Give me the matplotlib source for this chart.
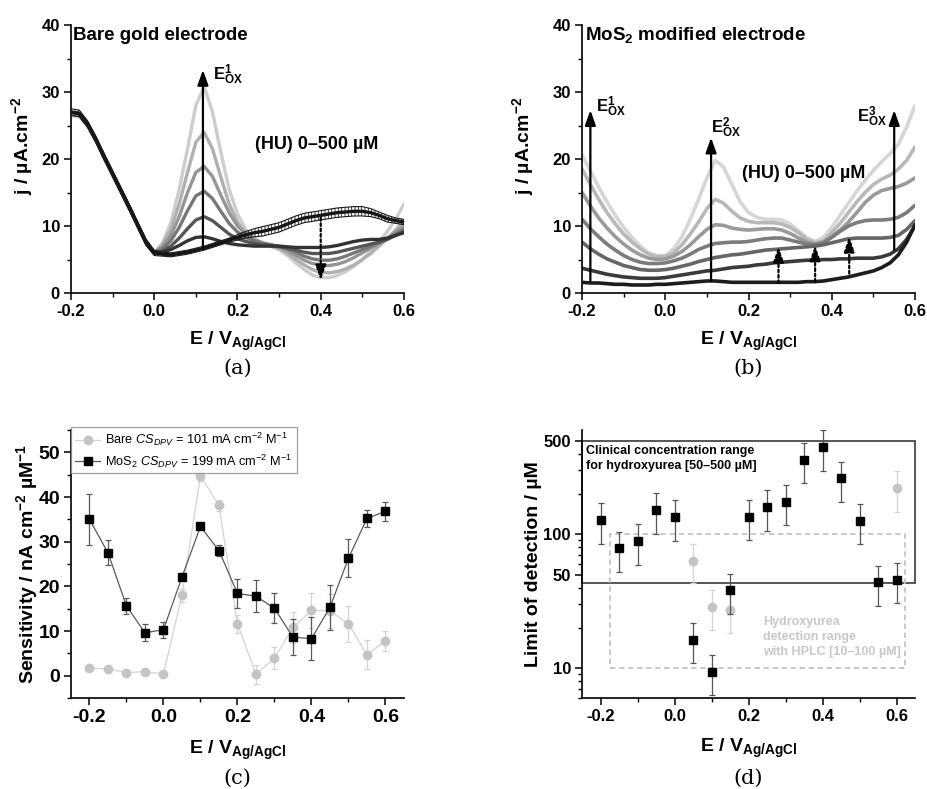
import numpy as np
import matplotlib
matplotlib.use('Agg')
import matplotlib.pyplot as plt
from matplotlib.ticker import MultipleLocator, FixedLocator, FixedFormatter, NullFormatter
from matplotlib.patches import Rectangle
from matplotlib.lines import Line2D

plt.rcParams['font.family'] = ['Liberation Sans', 'DejaVu Sans']
plt.rcParams['font.weight'] = 'bold'
plt.rcParams['axes.labelweight'] = 'bold'
plt.rcParams['mathtext.fontset'] = 'custom'
plt.rcParams['mathtext.rm'] = 'Liberation Sans:weight=normal'
plt.rcParams['mathtext.it'] = 'Liberation Sans:style=italic:weight=normal'
plt.rcParams['mathtext.bf'] = 'Liberation Sans:weight=bold'
plt.rcParams['hatch.linewidth'] = 0.6

# ---------------- data ----------------
# DPV potential grid (V vs Ag/AgCl)
E_dpv = np.linspace(-0.2, 0.6, 41)

# Panel (a): bare gold electrode, HU 0 -> 500 uM (current density, uA cm-2)
a_0uM = [27.0, 26.8, 25.2, 22.9, 20.3, 17.8, 15.3, 12.8, 10.2, 7.6, 6.0,
         5.8, 5.7, 5.9, 6.1, 6.4, 6.7, 7.1, 7.5, 7.9, 8.3,
         8.7, 9.0, 9.2, 9.5, 9.8, 10.3, 10.8, 11.2, 11.4, 11.6,
         11.8, 12.0, 12.1, 12.2, 12.2, 12.0, 11.6, 11.1, 10.8, 10.6]
a_0uM_err = [0.5, 0.5, 0.5, 0.5, 0.5, 0.5, 0.5, 0.5, 0.5, 0.5, 0.4,
             0.3, 0.3, 0.3, 0.3, 0.3, 0.3, 0.3, 0.3, 0.3, 0.4,
             0.5, 0.6, 0.7, 0.7, 0.7, 0.7, 0.7, 0.7, 0.7, 0.7,
             0.7, 0.7, 0.7, 0.7, 0.7, 0.6, 0.5, 0.5, 0.4, 0.4]
a_c1 = [27.0, 26.8, 25.2, 22.9, 20.3, 17.8, 15.3, 12.8, 10.2, 7.6, 6.0,
        6.1, 6.5, 7.1, 7.8, 8.3, 8.4, 8.1, 7.7, 7.4, 7.2,
        7.1, 7.0, 7.0, 7.0, 7.0, 6.9, 6.8, 6.8, 6.8, 6.8,
        6.9, 7.1, 7.4, 7.7, 7.9, 8.0, 8.0, 8.2, 8.6, 9.0]
a_c2 = [27.0, 26.8, 25.2, 22.9, 20.3, 17.8, 15.3, 12.8, 10.2, 7.6, 6.0,
        6.3, 7.0, 8.2, 9.6, 10.9, 11.4, 10.8, 9.8, 8.8, 8.1,
        7.7, 7.4, 7.2, 7.1, 6.9, 6.7, 6.4, 6.1, 5.9, 5.9,
        5.9, 6.1, 6.4, 6.7, 7.0, 7.3, 7.6, 8.0, 8.6, 9.2]
a_c3 = [26.9, 26.7, 25.1, 22.8, 20.2, 17.8, 15.3, 12.8, 10.2, 7.6, 6.0,
        6.6, 7.8, 9.8, 12.3, 14.5, 15.2, 14.1, 12.2, 10.4, 9.1,
        8.3, 7.8, 7.4, 7.2, 7.0, 6.6, 6.1, 5.5, 5.1, 4.9,
        4.9, 5.1, 5.5, 6.0, 6.5, 7.0, 7.5, 8.1, 8.8, 9.5]
a_c4 = [26.8, 26.6, 25.1, 22.8, 20.2, 17.7, 15.2, 12.7, 10.1, 7.6, 6.0,
        6.9, 8.6, 11.4, 15.0, 18.0, 18.9, 17.4, 14.6, 12.0, 10.0,
        8.8, 8.0, 7.5, 7.2, 6.9, 6.3, 5.6, 4.9, 4.4, 4.2,
        4.1, 4.3, 4.7, 5.3, 6.0, 6.7, 7.4, 8.2, 9.1, 10.0]
a_c5 = [26.6, 26.5, 25.0, 22.8, 20.2, 17.7, 15.2, 12.7, 10.1, 7.6, 6.0,
        7.2, 9.5, 13.3, 18.0, 22.5, 24.0, 21.5, 17.3, 13.3, 10.6,
        8.9, 7.9, 7.4, 7.0, 6.6, 5.9, 5.0, 4.2, 3.5, 3.1,
        3.0, 3.2, 3.6, 4.2, 5.0, 5.9, 7.0, 8.1, 9.4, 10.8]
a_c6 = [26.4, 26.4, 24.9, 22.7, 20.1, 17.6, 15.1, 12.6, 10.1, 7.6, 6.0,
        7.5, 10.5, 15.5, 21.5, 28.0, 30.8, 27.0, 21.0, 15.5, 11.8,
        9.5, 8.2, 7.5, 7.0, 6.5, 5.6, 4.5, 3.5, 2.7, 2.3,
        2.3, 2.6, 3.2, 4.0, 5.0, 6.2, 7.6, 9.2, 11.0, 13.3]

# Panel (b): MoS2 modified electrode, HU 0 -> 500 uM
b_0uM = [1.6, 1.5, 1.5, 1.4, 1.3, 1.3, 1.2, 1.2, 1.2, 1.3, 1.3,
         1.4, 1.5, 1.6, 1.7, 1.8, 1.8, 1.7, 1.6, 1.6, 1.6,
         1.6, 1.6, 1.6, 1.6, 1.6, 1.6, 1.7, 1.7, 1.8, 2.0,
         2.2, 2.4, 2.7, 3.0, 3.3, 3.8, 4.5, 5.7, 7.6, 10.2]
b_c2 = [3.7, 3.4, 3.1, 2.8, 2.6, 2.4, 2.3, 2.2, 2.2, 2.2, 2.3,
        2.5, 2.7, 2.9, 3.1, 3.3, 3.4, 3.6, 3.8, 3.9, 4.0,
        4.2, 4.3, 4.5, 4.6, 4.7, 4.8, 4.9, 4.9, 5.0, 5.0,
        5.1, 5.1, 5.2, 5.2, 5.2, 5.4, 5.8, 6.6, 8.0, 10.0]
b_c3 = [7.6, 6.6, 5.8, 5.1, 4.6, 4.1, 3.8, 3.5, 3.4, 3.4, 3.5,
        3.7, 4.0, 4.3, 4.7, 5.0, 5.3, 5.5, 5.7, 5.8, 6.0,
        6.2, 6.4, 6.5, 6.6, 6.7, 6.8, 6.9, 7.0, 7.2, 7.5,
        7.8, 8.1, 8.2, 8.2, 8.2, 8.2, 8.3, 8.6, 9.5, 10.8]
b_c4 = [11.0, 9.6, 8.4, 7.3, 6.4, 5.6, 5.0, 4.6, 4.4, 4.4, 4.5,
        4.8, 5.2, 5.8, 6.5, 7.0, 7.4, 7.5, 7.6, 7.6, 7.7,
        7.9, 8.1, 8.2, 8.2, 7.9, 7.6, 7.3, 7.2, 7.5, 8.3,
        9.2, 10.0, 10.5, 10.8, 10.9, 10.9, 11.0, 11.3, 12.0, 13.1]
b_c5 = [15.0, 13.0, 11.2, 9.7, 8.4, 7.3, 6.4, 5.7, 5.2, 5.0, 5.1,
        5.5, 6.2, 7.2, 8.4, 9.5, 10.2, 10.1, 9.7, 9.5, 9.4,
        9.5, 9.6, 9.6, 9.4, 8.9, 8.2, 7.6, 7.3, 7.6, 8.4,
        9.4, 10.6, 12.0, 13.5, 14.6, 15.3, 15.6, 15.9, 16.4, 17.2]
b_c6 = [18.5, 16.2, 14.0, 12.0, 10.3, 8.8, 7.6, 6.6, 5.8, 5.4, 5.4,
        6.0, 7.2, 8.8, 10.6, 12.6, 14.0, 13.4, 12.2, 11.2, 10.7,
        10.5, 10.5, 10.5, 10.3, 9.8, 9.0, 8.0, 7.5, 7.8, 9.0,
        10.4, 12.0, 13.6, 15.0, 16.2, 17.0, 17.6, 18.5, 19.8, 21.8]
b_c7 = [20.6, 18.2, 15.8, 13.6, 11.6, 9.8, 8.3, 7.0, 6.0, 5.6, 5.6,
        6.6, 8.4, 11.0, 14.0, 17.2, 19.8, 18.8, 16.2, 13.6, 12.0,
        11.3, 11.0, 11.0, 10.9, 10.3, 9.3, 8.3, 7.7, 8.3, 9.8,
        11.6, 13.4, 15.2, 16.8, 18.3, 19.6, 20.8, 22.2, 24.8, 28.0]

curve_grays_a = ['#151515', '#333333', '#555555', '#777777', '#959595', '#b0b0b0', '#cdcdcd']
curve_grays_b = ['#1c1c1c', '#3a3a3a', '#666666', '#7c7c7c', '#9a9a9a', '#b8b8b8', '#d6d6d6']

# arrows (x, y_start, y_end)
a_arrow_solid = (0.117, 6.6, 33.3)
a_arrow_dotted = (0.40, 11.2, 1.9)
b_arrows_solid = [(-0.18, 1.8, 27.3), (0.11, 1.8, 23.2), (0.55, 6.4, 27.3)]
b_arrows_dotted = [(0.272, 1.5, 6.9), (0.36, 1.7, 7.1), (0.442, 2.9, 8.4)]

# Panel (c): sensitivity (nA cm-2 uM-1)
E_sens = [-0.2, -0.15, -0.1, -0.05, 0.0, 0.05, 0.1, 0.15, 0.2, 0.25, 0.3,
          0.35, 0.4, 0.45, 0.5, 0.55, 0.6]
sens_bare = [1.7, 1.5, 0.7, 0.9, 0.4, 18.0, 44.8, 38.1, 11.6, 0.3, 3.9,
             10.8, 14.6, 14.5, 11.6, 4.7, 7.8]
sens_bare_err = [0.4, 0.4, 0.4, 0.4, 0.4, 1.4, 1.2, 1.3, 2.0, 2.2, 2.5,
                 3.4, 4.0, 3.8, 4.1, 3.2, 2.2]
sens_mos2 = [35.0, 27.5, 15.6, 9.6, 10.3, 22.1, 33.4, 28.0, 18.4, 17.8, 15.1,
             8.6, 8.3, 15.3, 26.3, 35.2, 36.8]
sens_mos2_err = [5.7, 2.8, 1.8, 1.9, 1.8, 0.5, 0.5, 1.2, 3.2, 3.6, 3.4,
                 4.0, 4.8, 5.1, 4.3, 1.9, 2.1]

# Panel (d): limit of detection (uM)
lod_mos2 = [128, 79, 89, 151, 134, 16.4, 9.4, 38.3, 135, 160, 175,
            361, 449, 262, 126, 43.7, 45.7]
lod_mos2_hi = [170, 104, 119, 202, 180, 21.8, 12.5, 50.7, 180, 214, 233,
               483, 603, 349, 167, 58, 61]
lod_mos2_lo = [85, 52, 59, 100, 89, 11.0, 6.3, 25.6, 90, 106, 117,
               241, 299, 175, 84, 29, 30.5]
E_lod_bare = [0.05, 0.1, 0.15, 0.6]
lod_bare = [63, 28.8, 27.2, 221]
lod_bare_hi = [84, 38.3, 36, 296]
lod_bare_lo = [43, 19.3, 18.2, 147]
clinical_range = (43, 500)
hplc_range = (10, 100)
hplc_E = (-0.175, 0.623)

# ---------------- figure ----------------
fig = plt.figure(figsize=(9.28, 7.89), dpi=100)
W, H = 0.3588, 0.3397
axA = fig.add_axes([0.0765, 0.6286, W, H])
axB = fig.add_axes([0.6272, 0.6286, W, H])
axC = fig.add_axes([0.0765, 0.1153, W, H])
axD = fig.add_axes([0.6272, 0.1153, W, H])


def style(ax, lsize=12):
    for s in ['top', 'right']:
        ax.spines[s].set_visible(False)
    for s in ['left', 'bottom']:
        ax.spines[s].set_linewidth(1.2)
    ax.tick_params(which='major', direction='out', length=5, width=1.1,
                   labelsize=lsize, pad=3)
    ax.tick_params(which='minor', direction='out', length=3, width=1.0)


def arrow(ax, x, y0, y1, dotted=False):
    ax.annotate('', xy=(x, y1), xytext=(x, y0),
                arrowprops=dict(arrowstyle='-|>,head_length=0.9,head_width=0.32',
                                color='k', lw=1.6, ls=(0, (1.2, 1.2)) if dotted else '-',
                                shrinkA=0, shrinkB=0))


xlab = r'E / V$_{\mathbf{Ag/AgCl}}$'

# ---- (a) ----
a_curves = [a_0uM, a_c1, a_c2, a_c3, a_c4, a_c5, a_c6]
for y, c in list(zip(a_curves, curve_grays_a))[::-1]:
    axA.plot(E_dpv, y, color=c, lw=2.4, solid_capstyle='round', zorder=2)
lo = np.array(a_0uM) - np.array(a_0uM_err)
hi = np.array(a_0uM) + np.array(a_0uM_err)
axA.fill_between(E_dpv, lo, hi, facecolor='none', edgecolor='#1a1a1a',
                 hatch='|||||', lw=0.8, zorder=3)
arrow(axA, a_arrow_solid[0], a_arrow_solid[1], a_arrow_solid[2])
arrow(axA, a_arrow_dotted[0], a_arrow_dotted[1], a_arrow_dotted[2], dotted=True)
axA.text(0.141, 32.5, r'E$^{\mathbf{1}}_{\mathbf{OX}}$', fontsize=12, va='center')
axA.text(-0.195, 37.8, 'Bare gold electrode', fontsize=13.5, va='baseline')
axA.text(0.391, 22.1, '(HU) 0–500 µM', fontsize=13, ha='center', va='center')
axA.set_xlim(-0.2, 0.6)
axA.set_ylim(0, 40)

# ---- (b) ----
b_curves = [b_0uM, b_c2, b_c3, b_c4, b_c5, b_c6, b_c7]
for y, c in list(zip(b_curves, curve_grays_b))[::-1]:
    axB.plot(E_dpv, y, color=c, lw=2.6, solid_capstyle='round', zorder=2)
for (x, y0, y1) in b_arrows_solid:
    arrow(axB, x, y0, y1)
for (x, y0, y1) in b_arrows_dotted:
    arrow(axB, x, y0, y1, dotted=True)
axB.text(-0.167, 27.8, r'E$^{\mathbf{1}}_{\mathbf{OX}}$', fontsize=12, va='center')
axB.text(0.109, 24.6, r'E$^{\mathbf{2}}_{\mathbf{OX}}$', fontsize=12, va='center')
axB.text(0.461, 26.3, r'E$^{\mathbf{3}}_{\mathbf{OX}}$', fontsize=12, va='center')
axB.text(-0.193, 37.8, r'MoS$_{\mathbf{2}}$ modified electrode', fontsize=13.5, va='baseline')
axB.text(0.333, 17.9, '(HU) 0–500 µM', fontsize=13, ha='center', va='center')
axB.set_xlim(-0.2, 0.6)
axB.set_ylim(0, 40)

for ax, lx in ((axA, -0.108), (axB, -0.138)):
    style(ax, 12)
    ax.xaxis.set_major_locator(MultipleLocator(0.2))
    ax.xaxis.set_minor_locator(MultipleLocator(0.1))
    ax.yaxis.set_major_locator(MultipleLocator(10))
    ax.yaxis.set_minor_locator(MultipleLocator(5))
    ax.xaxis.set_major_formatter(matplotlib.ticker.FormatStrFormatter('%.1f'))
    ax.set_xlabel(xlab, fontsize=14, labelpad=8)
    ax.set_ylabel(r'j / µA.cm$^{\mathbf{-2}}$', fontsize=14)
    ax.yaxis.set_label_coords(lx, 0.55)

# ---- (c) ----
axC.errorbar(E_sens, sens_bare, yerr=sens_bare_err, fmt='o-', color='#d3d3d3',
             mfc='#c4c4c4', mec='#c4c4c4', ms=6, lw=0.9, elinewidth=0.9,
             capsize=2.2, capthick=0.9, zorder=2)
axC.errorbar(E_sens, sens_mos2, yerr=sens_mos2_err, fmt='s-', color='#5a5a5a',
             mfc='k', mec='k', ms=6, lw=0.9, elinewidth=0.9,
             capsize=2.2, capthick=0.9, zorder=3)
handles = [Line2D([], [], color='#d3d3d3', marker='o', mfc='#c4c4c4', mec='#c4c4c4', ms=6, lw=0.9),
           Line2D([], [], color='#5a5a5a', marker='s', mfc='k', mec='k', ms=6, lw=0.9)]
labels = [r'Bare $CS_{DPV}$ = 101 mA cm$^{-2}$ M$^{-1}$',
          r'MoS$_{2}$ $CS_{DPV}$ = 199 mA cm$^{-2}$ M$^{-1}$']
leg = axC.legend(handles, labels, loc='upper left', bbox_to_anchor=(0.0, 1.01),
                 borderaxespad=0, prop={'weight': 'normal', 'size': 9.2},
                 frameon=True, fancybox=False, edgecolor='#8a8a8a',
                 handlelength=2.0, handletextpad=0.4, borderpad=0.3,
                 labelspacing=0.3)
leg.get_frame().set_linewidth(0.9)
axC.set_xlim(-0.25, 0.65)
axC.set_ylim(-5, 55)
style(axC, 14)
axC.xaxis.set_major_locator(MultipleLocator(0.2))
axC.xaxis.set_minor_locator(MultipleLocator(0.1))
axC.yaxis.set_major_locator(FixedLocator([0, 10, 20, 30, 40, 50]))
axC.yaxis.set_minor_locator(FixedLocator([-5, 5, 15, 25, 35, 45, 55]))
axC.xaxis.set_major_formatter(matplotlib.ticker.FormatStrFormatter('%.1f'))
axC.set_xlabel(xlab, fontsize=14, labelpad=9)
axC.set_ylabel(r'Sensitivity / nA cm$^{\mathbf{-2}}$ µM$^{\mathbf{-1}}$', fontsize=14)
axC.yaxis.set_label_coords(-0.093, 0.5)

# ---- (d) ----
axD.set_yscale('log')
axD.add_patch(Rectangle((-0.25, clinical_range[0]), 0.9, clinical_range[1] - clinical_range[0],
                        fill=False, ec='#3a3a3a', lw=1.2, clip_on=False, zorder=1))
axD.add_patch(Rectangle((hplc_E[0], hplc_range[0]), hplc_E[1] - hplc_E[0],
                        hplc_range[1] - hplc_range[0], fill=False, ec='#c4c4c4',
                        lw=1.3, ls=(0, (3, 2)), zorder=1))
mos_y = np.array(lod_mos2)
axD.errorbar(E_sens, mos_y, yerr=[mos_y - np.array(lod_mos2_lo), np.array(lod_mos2_hi) - mos_y],
             fmt='s', color='#555555', mfc='k', mec='k', ms=6, elinewidth=0.9,
             capsize=2.2, capthick=0.9, zorder=3)
bare_y = np.array(lod_bare)
axD.errorbar(E_lod_bare, bare_y, yerr=[bare_y - np.array(lod_bare_lo), np.array(lod_bare_hi) - bare_y],
             fmt='o', color='#d3d3d3', mfc='#c4c4c4', mec='#c4c4c4', ms=6, elinewidth=0.9,
             capsize=2.2, capthick=0.9, zorder=2)
axD.text(-0.238, 465, 'Clinical concentration range\nfor hydroxyurea [50–500 µM]',
         fontsize=9, va='top', ha='left', linespacing=1.3)
axD.text(0.239, 24.5, 'Hydroxyurea\ndetection range\nwith HPLC [10–100 µM]',
         fontsize=9, va='top', ha='left', color='#c8c8c8', linespacing=1.3)
axD.set_xlim(-0.25, 0.65)
axD.set_ylim(6, 600)
style(axD, 12)
axD.xaxis.set_major_locator(MultipleLocator(0.2))
axD.xaxis.set_minor_locator(MultipleLocator(0.1))
axD.xaxis.set_major_formatter(matplotlib.ticker.FormatStrFormatter('%.1f'))
axD.yaxis.set_major_locator(FixedLocator([10, 50, 100, 500]))
axD.yaxis.set_major_formatter(FixedFormatter(['10', '50', '100', '500']))
axD.yaxis.set_minor_locator(FixedLocator([6, 7, 8, 9, 20, 30, 40, 60, 70, 80, 90, 200, 300, 400]))
axD.yaxis.set_minor_formatter(NullFormatter())
axD.set_xlabel(xlab, fontsize=14, labelpad=9)
axD.set_ylabel('Limit of detection / µM', fontsize=14)
axD.yaxis.set_label_coords(-0.12, 0.5)

# panel letters
for x, y, s in [(0.256, 0.5336, '(a)'), (0.8066, 0.5336, '(b)'),
                (0.256, 0.0139, '(c)'), (0.8066, 0.0139, '(d)')]:
    fig.text(x, y, s, family='DejaVu Serif', fontsize=15, weight='normal',
             ha='center', va='center')

fig.savefig('out.png', dpi=100)
